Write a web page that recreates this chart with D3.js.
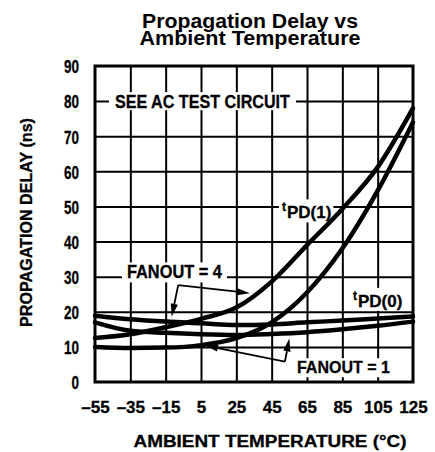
<!DOCTYPE html>
<html><head><meta charset="utf-8">
<script src="https://cdn.jsdelivr.net/npm/d3@7/dist/d3.min.js"></script>
<style>
body{margin:0;background:#fff;}
svg{display:block;}
text{font-family:"Liberation Sans",Arial,Helvetica,sans-serif;font-weight:bold;fill:#000;}
</style></head><body>
<svg id="c" width="435" height="452"></svg>
<script>
// ---- data ----
const temps = [-55, -35, -15, 5, 25, 45, 65, 85, 105, 125];
const tpd1Fanout4 = [12.5, 13.6, 15.6, 18.0, 21.2, 28.6, 39.0, 49.3, 61.2, 78.0];
const tpd1Fanout1 = [10.0, 9.7, 9.8, 10.5, 12.5, 17.0, 25.5, 38.0, 54.5, 74.0];
const tpd0Fanout4 = [18.9, 17.9, 17.2, 16.7, 16.2, 16.4, 17.0, 17.5, 18.1, 18.7];
const tpd0Fanout1 = [17.0, 14.6, 14.0, 13.6, 13.4, 13.7, 14.2, 15.0, 16.0, 17.2];
const yTicks = [0, 10, 20, 30, 40, 50, 60, 70, 80, 90];
const xTickLabels = ["\u201355", "\u201335", "\u201315", "5", "25", "45", "65", "85", "105", "125"];
const yTickLabels = ["0", "10", "20", "30", "40", "50", "60", "70", "80", "90"];
const titleLines = ["Propagation Delay vs", "Ambient Temperature"];
const xTitle = "AMBIENT TEMPERATURE (\u00B0C)";
const yTitle = "PROPAGATION DELAY (ns)";
// annotation anchors in data units [temperature, ns]
const fanout4Corner = [-7.9, 27.6];
const fanout4Tips = [[-11.6, 18.6], [32.7, 25.3]];
const fanout1Corner = [52.5, 5.8];
const fanout1Tips = [[55.0, 12.4], [7.3, 10.4]];

const svg = d3.select("#c");
const x = d3.scaleLinear().domain([-55, 125]).range([95, 413]);
const y = d3.scaleLinear().domain([0, 90]).range([382, 66]);

const gGrid = svg.append("g");
const gBg = svg.append("g");
const gCurves = svg.append("g");
const gBorder = svg.append("g");
const gAnn = svg.append("g");
const gText = svg.append("g");

// grid drawn with d3 axes (long ticks, no labels)
const gridX = gGrid.append("g").attr("transform", `translate(0,${y(0)})`)
  .call(d3.axisBottom(x).tickValues(temps.slice(1, -1)).tickSize(-(y(0) - y(90))).tickFormat(""));
const gridY = gGrid.append("g").attr("transform", `translate(${x(-55)},0)`)
  .call(d3.axisLeft(y).tickValues(yTicks.slice(1, -1)).tickSize(-(x(125) - x(-55))).tickFormat(""));
gGrid.selectAll(".domain").remove();
gGrid.selectAll(".tick line").attr("stroke", "#000").attr("stroke-width", 2);

// curves
const lineGen = d3.line().x((d, i) => x(temps[i])).y(d => y(d)).curve(d3.curveMonotoneX);
[tpd1Fanout4, tpd1Fanout1, tpd0Fanout4, tpd0Fanout1].forEach(s => {
  gCurves.append("path").attr("d", lineGen(s)).attr("fill", "none")
    .attr("stroke", "#000").attr("stroke-width", 4.5).attr("stroke-linecap", "round");
});

// in-plot labels with white backing that interrupts the grid
function label(tx, baseV, txt, fs, len, pad) {
  const t = gText.append("text").attr("x", x(tx)).attr("y", y(baseV))
    .attr("font-size", fs).attr("stroke", "#000").attr("stroke-width", 0.3);
  if (len) t.attr("textLength", len).attr("lengthAdjust", "spacingAndGlyphs");
  t.text(txt);
  const b = t.node().getBBox();
  gBg.append("rect").attr("x", b.x - pad[0]).attr("y", b.y + pad[1])
    .attr("width", b.width + 2 * pad[0]).attr("height", b.height - pad[1] - pad[2]).attr("fill", "#fff");
}
label(-43.7, 78.0, "SEE AC TEST CIRCUIT", 18, 175, [6, 0, 2]);
label(-36.9, 29.5, "FANOUT = 4", 18, 95, [5, 0, 0]);
label(59.3, 2.5, "FANOUT = 1", 17, 93, [5, 0, 0]);

function tpdLabel(tx, baseV, sub) {
  const t = gText.append("text").attr("x", x(tx)).attr("y", y(baseV))
    .attr("stroke", "#000").attr("stroke-width", 0.3);
  t.append("tspan").attr("font-size", 12).attr("dy", -7).text("t");
  t.append("tspan").attr("font-size", 17).attr("dy", 7).attr("dx", 1).text(sub);
  const b = t.node().getBBox();
  gBg.append("rect").attr("x", b.x - 3).attr("y", b.y - 1)
    .attr("width", b.width + 5).attr("height", b.height + 1).attr("fill", "#fff");
}
tpdLabel(50.8, 46.6, "PD(1)");
tpdLabel(91.0, 21.4, "PD(0)");

// border
gBorder.append("rect").attr("x", x(-55)).attr("y", y(90))
  .attr("width", x(125) - x(-55)).attr("height", y(0) - y(90))
  .attr("fill", "none").attr("stroke", "#000").attr("stroke-width", 3);

// leaders with filled arrowheads
function leaders(corner, tips) {
  tips.forEach(t => {
    const x0 = x(corner[0]), y0 = y(corner[1]), x1 = x(t[0]), y1 = y(t[1]);
    const a = Math.atan2(y1 - y0, x1 - x0), L = 13, w = 3.6;
    const bx = x1 - L * Math.cos(a), by = y1 - L * Math.sin(a);
    gAnn.append("line").attr("x1", x0).attr("y1", y0).attr("x2", bx).attr("y2", by)
      .attr("stroke", "#000").attr("stroke-width", 1.8);
    gAnn.append("path")
      .attr("d", `M${x1},${y1}L${bx + w * Math.sin(a)},${by - w * Math.cos(a)}L${bx - w * Math.sin(a)},${by + w * Math.cos(a)}Z`)
      .attr("fill", "#000");
  });
}
leaders(fanout4Corner, fanout4Tips);
leaders(fanout1Corner, fanout1Tips);

// title
titleLines.forEach((d, i) => {
  gText.append("text")
    .attr("x", 250).attr("y", 27.5 + i * 17)
    .attr("text-anchor", "middle").attr("font-size", 19.5)
    .attr("textLength", [216, 221][i]).attr("lengthAdjust", "spacingAndGlyphs")
    .text(d);
});

// axes labels
const xAxis = d3.axisBottom(x).tickValues(temps).tickSize(0).tickPadding(0)
  .tickFormat((d, i) => xTickLabels[i]);
const gx = gText.append("g").attr("transform", `translate(0,${y(0) + 30.5})`).call(xAxis);
gx.select(".domain").remove();
gx.selectAll("text").attr("font-size", 17).attr("dy", 0).attr("fill", "#000")
  .attr("font-family", '"Liberation Sans",Arial,sans-serif').attr("font-weight", "bold")
  .attr("stroke", "#000").attr("stroke-width", 0.3);

const yAxis = d3.axisLeft(y).tickValues(yTicks).tickSize(0).tickPadding(0)
  .tickFormat((d, i) => yTickLabels[i]);
const gy = gText.append("g").attr("transform", `translate(79,0)`).call(yAxis);
gy.select(".domain").remove();
gy.selectAll("text").attr("font-size", 19).attr("dy", 6.8).attr("fill", "#000")
  .attr("font-family", '"Liberation Sans",Arial,sans-serif').attr("font-weight", "bold")
  .attr("textLength", (d, i) => yTickLabels[i].length * 7.5).attr("lengthAdjust", "spacingAndGlyphs")
  .attr("stroke", "#000").attr("stroke-width", 0.3);

// axis titles
gText.append("text").attr("x", 270).attr("y", 446.5).attr("text-anchor", "middle")
  .attr("font-size", 17.4).attr("textLength", 273).attr("lengthAdjust", "spacingAndGlyphs")
  .attr("stroke", "#000").attr("stroke-width", 0.3).text(xTitle);
gText.append("text").attr("transform", "translate(32,222.5) rotate(-90)").attr("text-anchor", "middle")
  .attr("font-size", 16.5).attr("textLength", 209).attr("lengthAdjust", "spacingAndGlyphs")
  .attr("stroke", "#000").attr("stroke-width", 0.3).text(yTitle);
</script>
</body></html>
